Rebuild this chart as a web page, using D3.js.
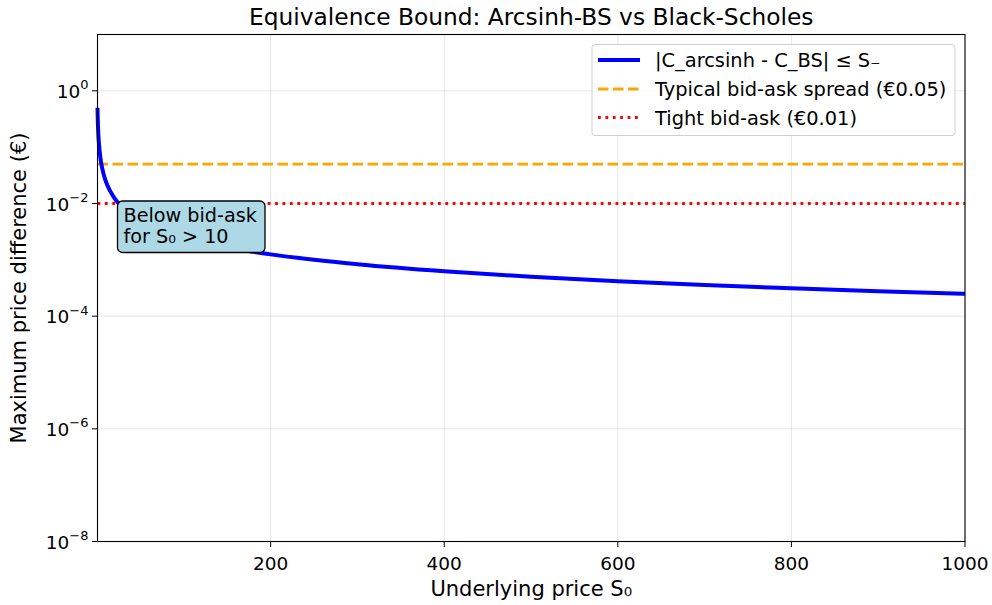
<!DOCTYPE html>
<html><head><meta charset="utf-8">
<script src="https://cdn.jsdelivr.net/npm/d3@7"></script>
<style>body{margin:0;background:#fff}svg{font-family:"DejaVu Sans",sans-serif}</style>
</head><body><svg id="c" width="992" height="605"></svg>
<script>
// Data
const S0 = [0.5, 0.75, 1, 1.5, 2, 3, 4, 5, 7, 10, 15, 20, 25, 30, 40, 50, 70, 100, 150, 200, 250, 300, 400, 500, 600, 700, 800, 900, 1000];
const bound = [0.5, 0.333, 0.25, 0.167, 0.125, 0.0833, 0.0625, 0.05, 0.0357, 0.025, 0.0167, 0.0125, 0.01, 0.00833, 0.00625, 0.005, 0.00357, 0.0025, 0.00167, 0.00125, 0.001, 0.000833, 0.000625, 0.0005, 0.000417, 0.000357, 0.000313, 0.000278, 0.00025];
const spreadTypical = 0.05;
const spreadTight = 0.01;
const xTicks = [200, 400, 600, 800, 1000];
const yTicks = [1, 1e-2, 1e-4, 1e-6, 1e-8];
const yTickExp = ["0", "−2", "−4", "−6", "−8"];
const legendLabels = ["|C_arcsinh - C_BS| ≤ S₋", "Typical bid-ask spread (€0.05)", "Tight bid-ask (€0.01)"];

const svg = d3.select("#c");
const L = 97.5, R = 965, T = 34.5, B = 541.5;
const x = d3.scaleLinear().domain([0.5, 1000]).range([L, R]);
const y = d3.scaleLog().domain([1e-8, 10]).range([B, T]);

// grid
const g = svg.append("g");
g.selectAll(".gx").data(xTicks).join("line").attr("x1", d => x(d)).attr("x2", d => x(d)).attr("y1", T).attr("y2", B).attr("stroke", "#b0b0b0").attr("stroke-opacity", 0.3).attr("stroke-width", 1);
g.selectAll(".gy").data(yTicks).join("line").attr("x1", L).attr("x2", R).attr("y1", d => y(d)).attr("y2", d => y(d)).attr("stroke", "#b0b0b0").attr("stroke-opacity", 0.3).attr("stroke-width", 1);

// reference lines
svg.append("line").attr("x1", L).attr("x2", R).attr("y1", y(spreadTypical)).attr("y2", y(spreadTypical)).attr("stroke", "orange").attr("stroke-width", 2.8).attr("stroke-dasharray", "10.5,4.5");
svg.append("line").attr("x1", L).attr("x2", R).attr("y1", y(spreadTight)).attr("y2", y(spreadTight)).attr("stroke", "red").attr("stroke-width", 2.8).attr("stroke-dasharray", "2.8,4.6");

// curve
const line = d3.line().x((d, i) => x(S0[i])).y(d => y(d)).curve(d3.curveMonotoneX);
svg.append("path").datum(bound).attr("d", line).attr("fill", "none").attr("stroke", "blue").attr("stroke-width", 4);

// axes frame
svg.append("rect").attr("x", L).attr("y", T).attr("width", R - L).attr("height", B - T).attr("fill", "none").attr("stroke", "#000").attr("stroke-width", 1.1);

// x ticks
const xa = svg.append("g");
xa.selectAll("line").data(xTicks).join("line").attr("x1", d => x(d)).attr("x2", d => x(d)).attr("y1", B).attr("y2", B + 5.5).attr("stroke", "#000");
xa.selectAll("text").data(xTicks).join("text").attr("x", d => x(d)).attr("y", 570).attr("text-anchor", "middle").attr("font-size", 18.5).text(d => d);

// y ticks
const ya = svg.append("g");
ya.selectAll("line").data(yTicks).join("line").attr("x1", L - 5.5).attr("x2", L).attr("y1", d => y(d)).attr("y2", d => y(d)).attr("stroke", "#000");
const yt = ya.selectAll("text").data(yTicks).join("text").attr("x", L - 9).attr("y", d => y(d) + 7).attr("text-anchor", "end").attr("font-size", 18.5);
yt.append("tspan").text("10");
yt.append("tspan").attr("dy", -8.5).attr("font-size", 13).text((d, i) => yTickExp[i]);

// labels
svg.append("text").attr("x", (L + R) / 2).attr("y", 24.5).attr("text-anchor", "middle").attr("font-size", 23.3).text("Equivalence Bound: Arcsinh-BS vs Black-Scholes");
svg.append("text").attr("x", (L + R) / 2).attr("y", 596).attr("text-anchor", "middle").attr("font-size", 21).text("Underlying price S₀");
svg.append("text").attr("transform", `translate(26,${(T + B) / 2}) rotate(-90)`).attr("text-anchor", "middle").attr("font-size", 21).text("Maximum price difference (€)");

// annotation box
svg.append("rect").attr("x", 117.5).attr("y", 201).attr("width", 147.5).attr("height", 51.5).attr("rx", 5).attr("fill", "#add8e6").attr("stroke", "#000").attr("stroke-width", 1.3);
svg.append("text").attr("x", 123.5).attr("y", 222).attr("font-size", 19.2).text("Below bid-ask");
svg.append("text").attr("x", 123.5).attr("y", 243).attr("font-size", 19.2).text("for S₀ > 10");

// legend
const lg = svg.append("g");
lg.append("rect").attr("x", 592).attr("y", 44.5).attr("width", 363).attr("height", 91).attr("rx", 3).attr("fill", "#fff").attr("fill-opacity", 0.8).attr("stroke", "#d0d0d0");
const ly = [60, 89, 117.5];
const lstyles = [{c: "blue", w: 4, d: null}, {c: "orange", w: 2.8, d: "10.5,4.5"}, {c: "red", w: 2.8, d: "2.8,4.6"}];
legendLabels.forEach((t, i) => {
  lg.append("line").attr("x1", 598).attr("x2", 640).attr("y1", ly[i]).attr("y2", ly[i]).attr("stroke", lstyles[i].c).attr("stroke-width", lstyles[i].w).attr("stroke-dasharray", lstyles[i].d);
  lg.append("text").attr("x", 655).attr("y", ly[i] + 7).attr("font-size", 19.4).text(t);
});
</script></body></html>
